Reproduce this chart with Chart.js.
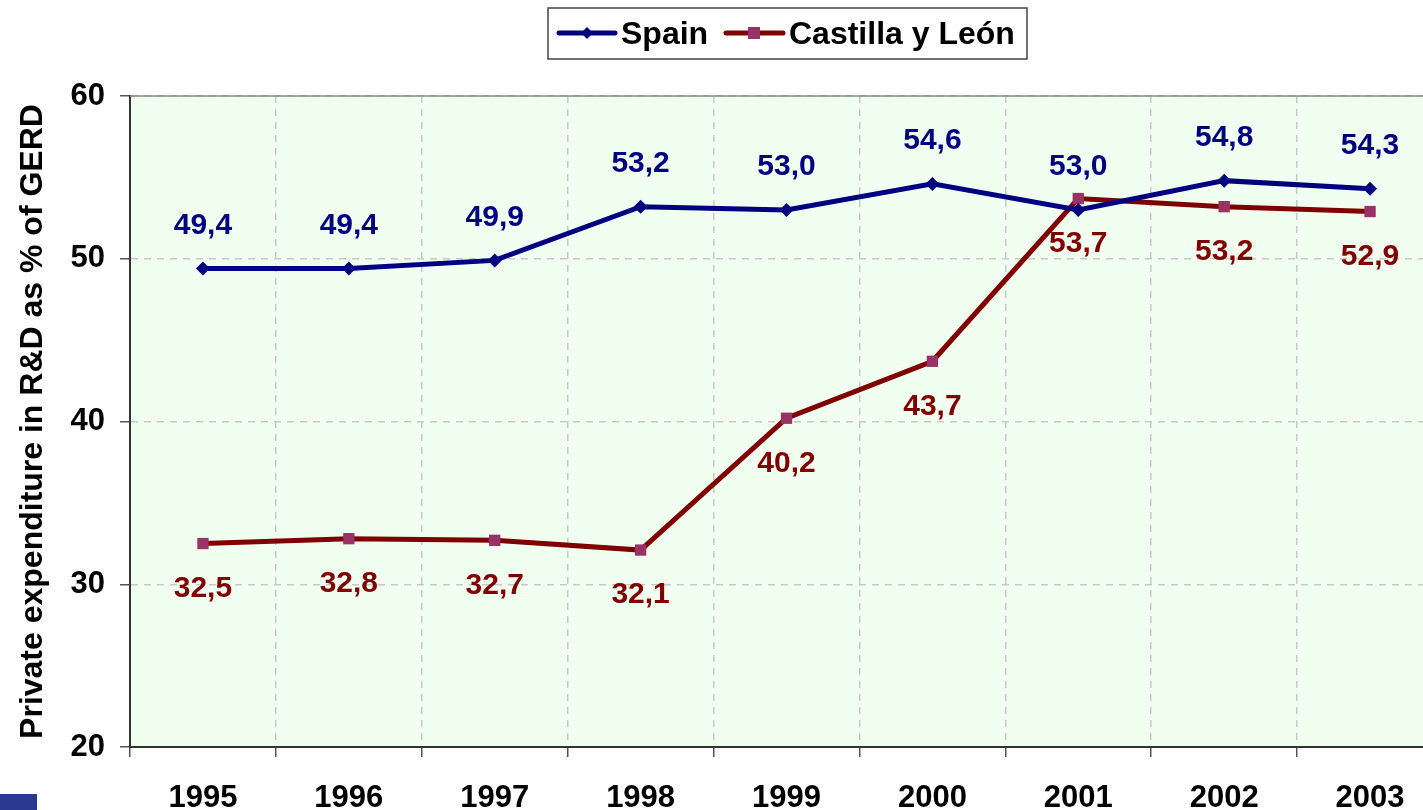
<!DOCTYPE html>
<html>
<head>
<meta charset="utf-8">
<script src="https://cdn.jsdelivr.net/npm/chart.js@4"></script>
<style>
  html, body { margin: 0; padding: 0; background: #fff; overflow: hidden; }
  #wrap { position: relative; width: 1451px; height: 810px; }
  #corner { position: absolute; left: 0; top: 794px; width: 37px; height: 16px; background: #2b3990; }
</style>
</head>
<body>
<div id="wrap">
  <canvas id="myChart" width="1451" height="810"></canvas>
  <div id="corner"></div>
</div>
<script>
const years = ['1995', '1996', '1997', '1998', '1999', '2000', '2001', '2002', '2003'];
const spain = [49.4, 49.4, 49.9, 53.2, 53.0, 54.6, 53.0, 54.8, 54.3];
const castilla = [32.5, 32.8, 32.7, 32.1, 40.2, 43.7, 53.7, 53.2, 52.9];
const yTicks = [20, 30, 40, 50, 60];

const NAVY = '#000080';
const MAROON = '#800000';
const PLUM = '#993366';
const FONT = 'Arial, "Liberation Sans", sans-serif';

// number labels above / below the points
const valueLabels = {
  id: 'valueLabels',
  afterDatasetsDraw(chart) {
    const ctx = chart.ctx;
    const offsets = [-43, 45];
    ctx.save();
    ctx.font = 'bold 30px ' + FONT;
    ctx.textAlign = 'center';
    ctx.textBaseline = 'middle';
    chart.data.datasets.forEach((ds, di) => {
      const meta = chart.getDatasetMeta(di);
      ctx.fillStyle = ds.borderColor;
      meta.data.forEach((pt, i) => {
        const txt = ds.data[i].toFixed(1).replace('.', ',');
        ctx.fillText(txt, pt.x, pt.y + offsets[di]);
      });
    });
    ctx.restore();
  }
};

// plot background + top border
const plotFrame = {
  id: 'plotFrame',
  beforeDraw(chart) {
    const a = chart.chartArea;
    const ctx = chart.ctx;
    ctx.save();
    ctx.fillStyle = '#f0fff0';
    ctx.fillRect(a.left, a.top, a.right - a.left, a.bottom - a.top);
    ctx.restore();
  },
  afterDraw(chart) {
    const a = chart.chartArea;
    const ctx = chart.ctx;
    ctx.save();
    ctx.strokeStyle = '#888';
    ctx.lineWidth = 1.5;
    ctx.beginPath();
    ctx.moveTo(a.left, a.top);
    ctx.lineTo(a.right, a.top);
    ctx.stroke();
    ctx.restore();
  }
};

// boxed legend with line + marker samples
const boxLegend = {
  id: 'boxLegend',
  afterDraw(chart) {
    const ctx = chart.ctx;
    ctx.save();
    ctx.fillStyle = '#fff';
    ctx.fillRect(548, 8, 479, 51);
    ctx.strokeStyle = '#444';
    ctx.lineWidth = 1.5;
    ctx.strokeRect(548, 8, 479, 51);

    const y = 33;
    ctx.lineWidth = 5;
    ctx.lineCap = 'round';
    // Spain
    ctx.strokeStyle = NAVY;
    ctx.beginPath(); ctx.moveTo(559, y); ctx.lineTo(615, y); ctx.stroke();
    ctx.fillStyle = NAVY;
    ctx.beginPath();
    ctx.moveTo(587, y - 6); ctx.lineTo(593, y); ctx.lineTo(587, y + 6); ctx.lineTo(581, y);
    ctx.closePath(); ctx.fill();
    // Castilla y León
    ctx.strokeStyle = MAROON;
    ctx.beginPath(); ctx.moveTo(726, y); ctx.lineTo(783, y); ctx.stroke();
    ctx.fillStyle = PLUM;
    ctx.fillRect(748, y - 6, 12, 12);

    ctx.fillStyle = '#000';
    ctx.font = 'bold 32px ' + FONT;
    ctx.textAlign = 'left';
    ctx.textBaseline = 'middle';
    ctx.fillText(chart.data.datasets[0].label, 621, y + 2);
    ctx.fillText(chart.data.datasets[1].label, 789, y + 2);
    ctx.restore();
  }
};

const config = {
  type: 'line',
  data: {
    labels: years,
    datasets: [{
      label: 'Spain',
      data: spain,
      borderColor: NAVY,
      backgroundColor: NAVY,
      borderWidth: 5,
      pointStyle: 'rectRot',
      pointRadius: 7,
      pointBorderWidth: 0,
      pointBackgroundColor: NAVY,
      tension: 0
    }, {
      label: 'Castilla y León',
      data: castilla,
      borderColor: MAROON,
      backgroundColor: MAROON,
      borderWidth: 5,
      pointStyle: 'rect',
      pointRadius: 8,
      pointBorderWidth: 0,
      pointBackgroundColor: PLUM,
      tension: 0
    }]
  },
  options: {
    responsive: false,
    animation: false,
    devicePixelRatio: 1,
    layout: { padding: { top: 96, right: 2, left: 0, bottom: 0 } },
    plugins: {
      legend: { display: false },
      tooltip: { enabled: false }
    },
    scales: {
      x: {
        offset: true,
        grid: {
          offset: true,
          color: '#c8c8c8',
          lineWidth: 1.5,
          tickLength: 10,
          tickColor: '#555',
          tickWidth: 1.5,
          tickBorderDash: []
        },
        border: { color: '#333', width: 2, dash: [7, 6] },
        ticks: {
          color: '#000',
          font: { family: FONT, size: 31, weight: 'bold' },
          padding: 23,
          maxRotation: 0
        },
        afterFit(s) { s.height = 63; }
      },
      y: {
        min: 20,
        max: 60,
        afterBuildTicks(s) { s.ticks = yTicks.map(v => ({ value: v })); },
        grid: {
          color: '#c8c8c8',
          lineWidth: 1.5,
          tickLength: 10,
          tickColor: '#555',
          tickWidth: 1.5,
          tickBorderDash: []
        },
        border: { color: '#333', width: 2, dash: [7, 6] },
        ticks: {
          color: '#000',
          font: { family: FONT, size: 31, weight: 'bold' },
          padding: 15
        },
        title: {
          display: true,
          text: 'Private expenditure in R&D as % of GERD',
          color: '#000',
          font: { family: FONT, size: 32, weight: 'bold' },
          padding: { top: 14, bottom: 0 }
        },
        afterFit(s) { s.width = 130; }
      }
    }
  },
  plugins: [plotFrame, valueLabels, boxLegend]
};

new Chart(document.getElementById('myChart'), config);
</script>
</body>
</html>
